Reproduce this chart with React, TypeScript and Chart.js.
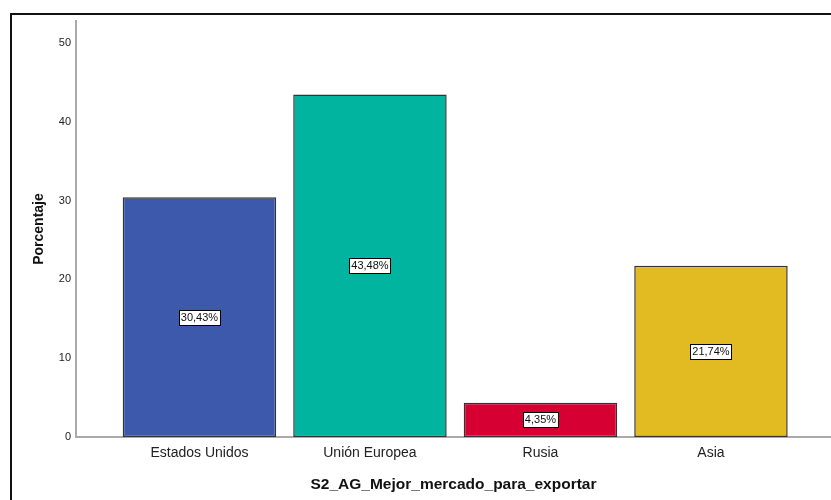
import React, { useEffect, useRef } from "react";
import { Chart, registerables } from "chart.js";

Chart.register(...registerables);

const categories = ["Estados Unidos", "Unión Europea", "Rusia", "Asia"];
const percentages = [30.43, 43.48, 4.35, 21.74];
const barColors = ["#3D59AB", "#00B4A0", "#D60032", "#E1BB21"];
const yTicks = [0, 10, 20, 30, 40, 50];
const xTitle = "S2_AG_Mejor_mercado_para_exportar";
const yTitle = "Porcentaje";

const FONT = "'Liberation Sans', Arial, sans-serif";

const fmt = (v: number) => v.toFixed(2).replace(".", ",") + "%";

const framePlugin = {
  id: "frame",
  afterDraw(chart: any) {
    const ctx = chart.ctx;
    ctx.save();
    ctx.strokeStyle = "#111";
    ctx.lineWidth = 2;
    ctx.beginPath();
    ctx.moveTo(11, 500);
    ctx.lineTo(11, 14);
    ctx.lineTo(831, 14);
    ctx.stroke();
    ctx.restore();
  },
};

const labelPlugin = {
  id: "barLabels",
  afterDatasetsDraw(chart: any) {
    const ctx = chart.ctx;
    const meta = chart.getDatasetMeta(0);
    ctx.save();
    ctx.font = `11px ${FONT}`;
    ctx.textAlign = "center";
    ctx.textBaseline = "middle";
    meta.data.forEach((bar: any, i: number) => {
      const text = fmt(percentages[i]);
      const cx = bar.x;
      const cy = (bar.y + bar.base) / 2;
      const w = ctx.measureText(text).width + 4;
      const h = 15;
      const x0 = Math.round(cx - w / 2) + 0.5;
      const y0 = Math.round(cy - h / 2) + 0.5;
      ctx.fillStyle = "#fff";
      ctx.fillRect(x0, y0, Math.round(w), h);
      ctx.strokeStyle = "#000";
      ctx.lineWidth = 1;
      ctx.strokeRect(x0, y0, Math.round(w), h);
      ctx.fillStyle = "#111";
      ctx.fillText(text, cx, cy + 0.5);
    });
    ctx.restore();
  },
};

export default function App() {
  const ref = useRef<HTMLCanvasElement | null>(null);

  useEffect(() => {
    document.body.style.margin = "0";
    if (!ref.current) return;
    const chart = new Chart(ref.current, {
      type: "bar",
      data: {
        datasets: [
          {
            data: percentages.map((v, i) => ({ x: i, y: v })),
            backgroundColor: barColors,
            borderColor: "#333",
            borderWidth: 1.5,
            borderSkipped: false,
            barPercentage: 0.9,
            categoryPercentage: 1,
          },
        ],
      },
      options: {
        responsive: false,
        animation: false,
        layout: { padding: { top: 21, left: 0, right: 0, bottom: 0 } },
        plugins: {
          legend: { display: false },
          tooltip: { enabled: false },
        },
        scales: {
          x: {
            type: "linear",
            offset: false,
            min: -0.724,
            max: 3.704,
            grid: { display: false, drawTicks: false, tickLength: 0 },
            border: { display: true, color: "#aaaaaa", width: 2 },
            afterBuildTicks: (scale: any) => {
              scale.ticks = categories.map((_, i) => ({ value: i }));
            },
            afterFit: (scale: any) => {
              scale.height = 63;
            },
            ticks: {
              autoSkip: false,
              maxRotation: 0,
              padding: 8,
              color: "#222",
              font: { family: FONT, size: 14 },
              callback: (v: any) => categories[v as number] ?? "",
            },
            title: {
              display: true,
              text: xTitle,
              color: "#111",
              font: { family: FONT, size: 15.5, weight: "bold" },
              padding: { top: 0, bottom: 5.5 },
            },
          },
          y: {
            min: 0,
            max: 52.8,
            grid: { display: false, drawTicks: false, tickLength: 0 },
            border: { display: true, color: "#aaaaaa", width: 2 },
            afterBuildTicks: (scale: any) => {
              scale.ticks = yTicks.map((v) => ({ value: v }));
            },
            afterFit: (scale: any) => {
              scale.width = 76;
            },
            ticks: {
              padding: 5,
              color: "#222",
              font: { family: FONT, size: 11 },
            },
            title: {
              display: true,
              text: yTitle,
              color: "#111",
              font: { family: FONT, size: 14, weight: "bold" },
              padding: { top: 30.6, bottom: 0 },
            },
          },
        },
      },
      plugins: [framePlugin, labelPlugin],
    } as any);
    return () => chart.destroy();
  }, []);

  return (
    <div style={{ width: 831, height: 500, background: "#fff" }}>
      <canvas ref={ref} width={831} height={500} style={{ display: "block" }} />
    </div>
  );
}
